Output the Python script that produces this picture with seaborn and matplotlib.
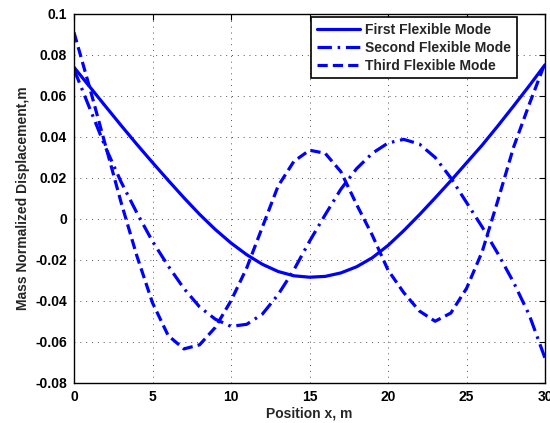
import numpy as np
import pandas as pd
import matplotlib
matplotlib.use("Agg")
import matplotlib.pyplot as plt
import seaborn as sns

# ---- data ----
position = list(range(0, 31))
first_mode = [0.074, 0.0645, 0.055, 0.0456, 0.0364, 0.0275, 0.0188, 0.0103, 0.0022, -0.0052,
              -0.0118, -0.0175, -0.0222, -0.0257, -0.0278, -0.0285, -0.0281, -0.0264, -0.0234, -0.019,
              -0.013, -0.0058, 0.002, 0.0102, 0.0186, 0.0273, 0.036, 0.0454, 0.0551, 0.065, 0.0752]
second_mode = [0.073, 0.054, 0.035, 0.018, 0.003, -0.011, -0.023, -0.034, -0.043, -0.049,
               -0.0525, -0.0515, -0.0465, -0.037, -0.025, -0.011, 0.002, 0.0145, 0.0245, 0.032,
               0.037, 0.0388, 0.0365, 0.030, 0.020, 0.008, -0.004, -0.017, -0.031, -0.047, -0.068]
third_mode = [0.091, 0.064, 0.036, 0.008, -0.018, -0.041, -0.057, -0.0635, -0.0615, -0.053,
              -0.040, -0.024, -0.004, 0.016, 0.028, 0.0335, 0.032, 0.023, 0.007, -0.008,
              -0.025, -0.036, -0.045, -0.050, -0.046, -0.034, -0.016, 0.009, 0.035, 0.056, 0.076]
mode_names = ["First Flexible Mode", "Second Flexible Mode", "Third Flexible Mode"]
x_ticks = [0, 5, 10, 15, 20, 25, 30]
y_ticks = [-0.08, -0.06, -0.04, -0.02, 0, 0.02, 0.04, 0.06, 0.08, 0.1]
y_tick_labels = ["-0.08", "-0.06", "-0.04", "-0.02", "0", "0.02", "0.04", "0.06", "0.08", "0.1"]

df = pd.DataFrame({
    "x": position * 3,
    "y": first_mode + second_mode + third_mode,
    "mode": [mode_names[0]] * 31 + [mode_names[1]] * 31 + [mode_names[2]] * 31,
})

sns.set_style("white")
plt.rcParams["font.family"] = ["Liberation Sans", "DejaVu Sans"]
plt.rcParams["font.weight"] = "bold"

fig = plt.figure(figsize=(5.5, 4.23), dpi=100)
ax = fig.add_axes([74 / 550, 1 - 382.7 / 423, (545 - 74) / 550, (382.7 - 14) / 423])

blue = "#0000ff"
sns.lineplot(data=df, x="x", y="y", hue="mode", style="mode",
             palette={m: blue for m in mode_names},
             dashes={mode_names[0]: "", mode_names[1]: (4.5, 1.8, 0.8, 1.8), mode_names[2]: (3.2, 1.6)},
             linewidth=2.3, ax=ax, sort=False)

ax.set_xlim(0, 30)
ax.set_ylim(-0.08, 0.1)
ax.set_xticks(x_ticks)
ax.set_xticklabels([str(t) for t in x_ticks])
ax.set_yticks(y_ticks)
ax.set_yticklabels(y_tick_labels)
ax.grid(True, color="#555555", linestyle=(0, (1, 5)), linewidth=0.7)
ax.tick_params(direction="in", length=4, width=0.8, top=True, right=True,
               labelsize=10, pad=5, colors="black")
for lab in ax.get_xticklabels() + ax.get_yticklabels():
    lab.set_fontweight("bold")
for s in ax.spines.values():
    s.set_color("black")
    s.set_linewidth(1.0)

ax.set_xlabel("Position x, m", fontsize=10, fontweight="bold", labelpad=2)
ax.set_ylabel("Mass Normalized Displacement,m", fontsize=10, fontweight="bold", labelpad=4)

leg = ax.legend(loc="upper right", bbox_to_anchor=(517 / 550, 1 - 17 / 423),
                bbox_transform=fig.transFigure, borderaxespad=0,
                prop={"size": 10, "weight": "bold"}, handlelength=3.1,
                handletextpad=0.4, labelspacing=0.3, borderpad=0.4,
                fancybox=False, framealpha=1, edgecolor="black", title=None)
leg.get_frame().set_linewidth(1.2)

fig.savefig("out.png", dpi=100)
